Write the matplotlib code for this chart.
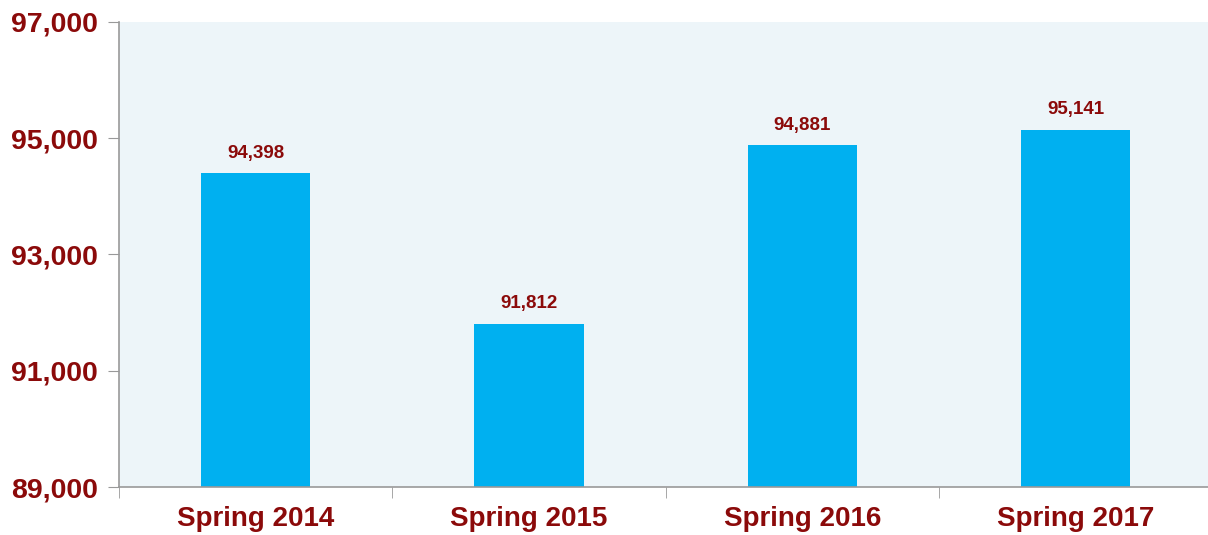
import matplotlib.pyplot as plt
from matplotlib.ticker import FuncFormatter, FixedLocator

plt.rcParams['font.family'] = ['Liberation Sans', 'DejaVu Sans']

periodos = ['Spring 2014', 'Spring 2015', 'Spring 2016', 'Spring 2017']
valores = [94398, 91812, 94881, 95141]
cor_texto = '#8B0A0A'

fig = plt.figure(figsize=(12.08, 5.35), dpi=100)
ax = fig.add_axes([0.0985, 0.0897, 0.905, 0.8692])
ax.set_facecolor('#EDF5F9')

x = range(len(periodos))
barras = ax.bar(x, valores, width=0.4, color='#00B0F0', zorder=2)
for xi, v in zip(x, valores):
    ax.text(xi, v + 200, f'{v:,}', ha='center', va='bottom',
            fontsize=13.5, fontweight='bold', color=cor_texto)

ax.set_xlim(-0.5, 3.5)
ax.set_ylim(89000, 97000)
ax.set_yticks([89000, 91000, 93000, 95000, 97000])
ax.yaxis.set_major_formatter(FuncFormatter(lambda v, p: f'{int(v):,}'))
ax.set_xticks(list(x))
ax.set_xticklabels(periodos)
ax.xaxis.set_minor_locator(FixedLocator([-0.5, 0.5, 1.5, 2.5, 3.5]))

ax.tick_params(axis='x', which='major', length=0, pad=14, labelsize=20, labelcolor=cor_texto)
ax.tick_params(axis='x', which='minor', length=8, color='#999999', direction='out')
ax.tick_params(axis='y', length=8, color='#999999', pad=7, labelsize=20.5, labelcolor=cor_texto)
for lab in ax.get_xticklabels() + ax.get_yticklabels():
    lab.set_fontweight('bold')

for s in ['top', 'right']:
    ax.spines[s].set_visible(False)
for s in ['left', 'bottom']:
    ax.spines[s].set_color('#999999')
    ax.spines[s].set_linewidth(1.2)

plt.savefig('out.png', dpi=100)
